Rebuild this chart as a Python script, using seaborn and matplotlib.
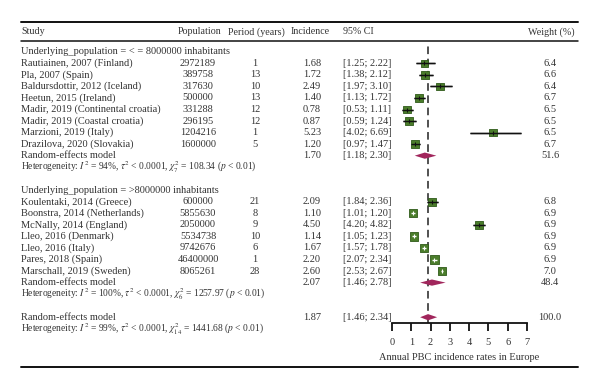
import numpy as np
import pandas as pd
import matplotlib.pyplot as plt
import matplotlib.transforms as mtransforms
from matplotlib.lines import Line2D
import seaborn as sns

# ---- data ----
studies1 = ["Rautiainen, 2007 (Finland)", "Pla, 2007 (Spain)", "Baldursdottir, 2012 (Iceland)",
            "Heetun, 2015 (Ireland)", "Madir, 2019 (Continental croatia)", "Madir, 2019 (Coastal croatia)",
            "Marzioni, 2019 (Italy)", "Drazilova, 2020 (Slovakia)"]
pop1 = [2972189, 389758, 317630, 500000, 331288, 296195, 1204216, 1600000]
period1 = [1, 13, 10, 13, 12, 12, 1, 5]
inc1 = [1.68, 1.72, 2.49, 1.40, 0.78, 0.87, 5.23, 1.20]
lo1 = [1.25, 1.38, 1.97, 1.13, 0.53, 0.59, 4.02, 0.97]
hi1 = [2.22, 2.12, 3.10, 1.72, 1.11, 1.24, 6.69, 1.47]
w1 = [6.4, 6.6, 6.4, 6.7, 6.5, 6.5, 6.5, 6.7]

studies2 = ["Koulentaki, 2014 (Greece)", "Boonstra, 2014 (Netherlands)", "McNally, 2014 (England)",
            "Lleo, 2016 (Denmark)", "Lleo, 2016 (Italy)", "Pares, 2018 (Spain)", "Marschall, 2019 (Sweden)"]
pop2 = [600000, 5855630, 2050000, 5534738, 9742676, 46400000, 8065261]
period2 = [21, 8, 9, 10, 6, 1, 28]
inc2 = [2.09, 1.10, 4.50, 1.14, 1.67, 2.20, 2.60]
lo2 = [1.84, 1.01, 4.20, 1.05, 1.57, 2.07, 2.53]
hi2 = [2.36, 1.20, 4.82, 1.23, 1.78, 2.34, 2.67]
w2 = [6.8, 6.9, 6.9, 6.9, 6.9, 6.9, 7.0]

pooled_labels = ["group1", "group2", "overall"]
pooled_est = [1.70, 2.07, 1.87]
pooled_lo = [1.18, 1.46, 1.46]
pooled_hi = [2.30, 2.78, 2.34]
pooled_w = [51.6, 48.4, 100.0]

group_titles = ["Underlying_population = < = 8000000 inhabitants",
                "Underlying_population = >8000000 inhabitants"]
het_texts = [r"Heterogeneity: $I^2$ = 94%, $\tau^2$ < 0.0001, $\chi^2_7$ = 108.34 ($p$ < 0.01)",
             r"Heterogeneity: $I^2$ = 100%, $\tau^2$ < 0.0001, $\chi^2_6$ = 1257.97 ($p$ < 0.01)",
             r"Heterogeneity: $I^2$ = 99%, $\tau^2$ < 0.0001, $\chi^2_{14}$ = 1441.68 ($p$ < 0.01)"]
ticks = [0, 1, 2, 3, 4, 5, 6, 7]

# ---- row layout ----
rows1 = list(range(1, 9))
rows2 = list(range(13, 20))
pooled_rows = [9, 20, 23]

df = pd.DataFrame({
    "study": studies1 + studies2,
    "inc": inc1 + inc2,
    "lo": lo1 + lo2,
    "hi": hi1 + hi2,
    "w": w1 + w2,
    "row": rows1 + rows2,
})

sns.set_style("white")
plt.rcParams["font.family"] = ["Liberation Serif", "DejaVu Serif"]
plt.rcParams["mathtext.fontset"] = "stix"

W, H = 600, 389
fig = plt.figure(figsize=(6, 3.89), dpi=100)

row0, dy = 51.8, 11.54
ytop, ybot = 45, 323
ax = fig.add_axes([392 / W, 1 - ybot / H, (527 - 392) / W, (ybot - ytop) / H])
ax.set_xlim(0, 7)
ax.set_ylim((ybot - row0) / dy, (ytop - row0) / dy)

green = "#4b7d2b"
green_edge = "#2f5a1a"
diamond_c = "#a1265c"
txt_c = "#333333"

# reference line at overall estimate
ax.axvline(pooled_est[2], color="#222222", lw=1.1, ls=(0, (5, 3)), zorder=1)

# CI whiskers (behind squares)
px_per_unit = (527 - 392) / 7
sq_px = 8
for _, r in df.iterrows():
    wide = (r["hi"] - r["lo"]) * px_per_unit > sq_px
    if wide:
        ax.hlines(r["row"], r["lo"], r["hi"], color="#111111", lw=1.0, zorder=2)

sns.scatterplot(data=df, x="inc", y="row", size="w", sizes=(30, 36), marker="s",
                color=green, edgecolor=green_edge, linewidth=0.6, legend=False, ax=ax, zorder=3)

for _, r in df.iterrows():
    wide = (r["hi"] - r["lo"]) * px_per_unit > sq_px
    c = "#111111" if wide else "white"
    ax.hlines(r["row"], r["lo"], r["hi"], color=c, lw=1.0, zorder=4)
    ax.plot(r["inc"], r["row"], marker="|", ms=3, mew=0.8, color=c, zorder=4)

# pooled diamonds
for est, lo, hi, row in zip(pooled_est, pooled_lo, pooled_hi, pooled_rows):
    h = 0.27
    ax.fill([lo, est, hi, est], [row, row - h, row, row + h], color=diamond_c, lw=0, zorder=3)

# axis styling
for s in ["top", "right", "left"]:
    ax.spines[s].set_visible(False)
ax.spines["bottom"].set_linewidth(1.3)
ax.spines["bottom"].set_color("#111111")
ax.set_yticks([])
ax.set_ylabel("")
ax.set_xticks(ticks)
ax.set_xticklabels([str(t) for t in ticks])
ax.tick_params(axis="x", direction="out", length=6, width=1.3, color="#111111",
               labelsize=7.5, labelcolor=txt_c, pad=5, bottom=True)
ax.set_xlabel("Annual PBC incidence rates in Europe", fontsize=7.5, color=txt_c, labelpad=4)
ax.patch.set_alpha(0)

# ---- table text ----
tr = mtransforms.blended_transform_factory(fig.transFigure, ax.transData)
fs = 7.5


def put(px, row, s, ha="left", size=fs):
    ax.text(px / W, row, s, transform=tr, ha=ha, va="center", fontsize=size,
            color=txt_c, clip_on=False)


hdr = (32 - row0) / dy
hfs = 7.2
put(21, hdr, "Study", size=hfs)
put(200, hdr, "Population", "center", size=hfs)
put(256, hdr, "Period (years)", "center", size=hfs)
put(310, hdr, "Incidence", "center", size=hfs)
put(343, hdr, "95% CI", size=hfs)
put(575, hdr, "Weight (%)", "right", size=hfs)

for rows, st, pp, pe, ii, ll, hh, ww in [(rows1, studies1, pop1, period1, inc1, lo1, hi1, w1),
                                          (rows2, studies2, pop2, period2, inc2, lo2, hi2, w2)]:
    for row, s, p, per, i, l, h, w in zip(rows, st, pp, pe, ii, ll, hh, ww):
        put(21, row, s)
        put(198, row, str(p), "center")
        put(255, row, str(per), "center")
        put(312, row, f"{i:.2f}", "center")
        put(343, row, f"[{l:.2f}; {h:.2f}]")
        put(550, row, f"{w:.1f}", "center")

put(21, 0, group_titles[0])
put(21, 12, group_titles[1])

for row, est, lo, hi, w, het in zip(pooled_rows, pooled_est, pooled_lo, pooled_hi, pooled_w, het_texts):
    put(21, row, "Random-effects model")
    put(312, row, f"{est:.2f}", "center")
    put(343, row, f"[{lo:.2f}; {hi:.2f}]")
    put(550, row, f"{w:.1f}", "center")
    put(21, row + 1, het, size=6.85)

# rules
for py, lw in [(22, 1.4), (41, 1.1), (367, 1.4)]:
    fig.add_artist(Line2D([21 / W, 578 / W], [1 - py / H, 1 - py / H],
                          transform=fig.transFigure, color="#111111", lw=lw))

fig.savefig("out.png", dpi=100)
